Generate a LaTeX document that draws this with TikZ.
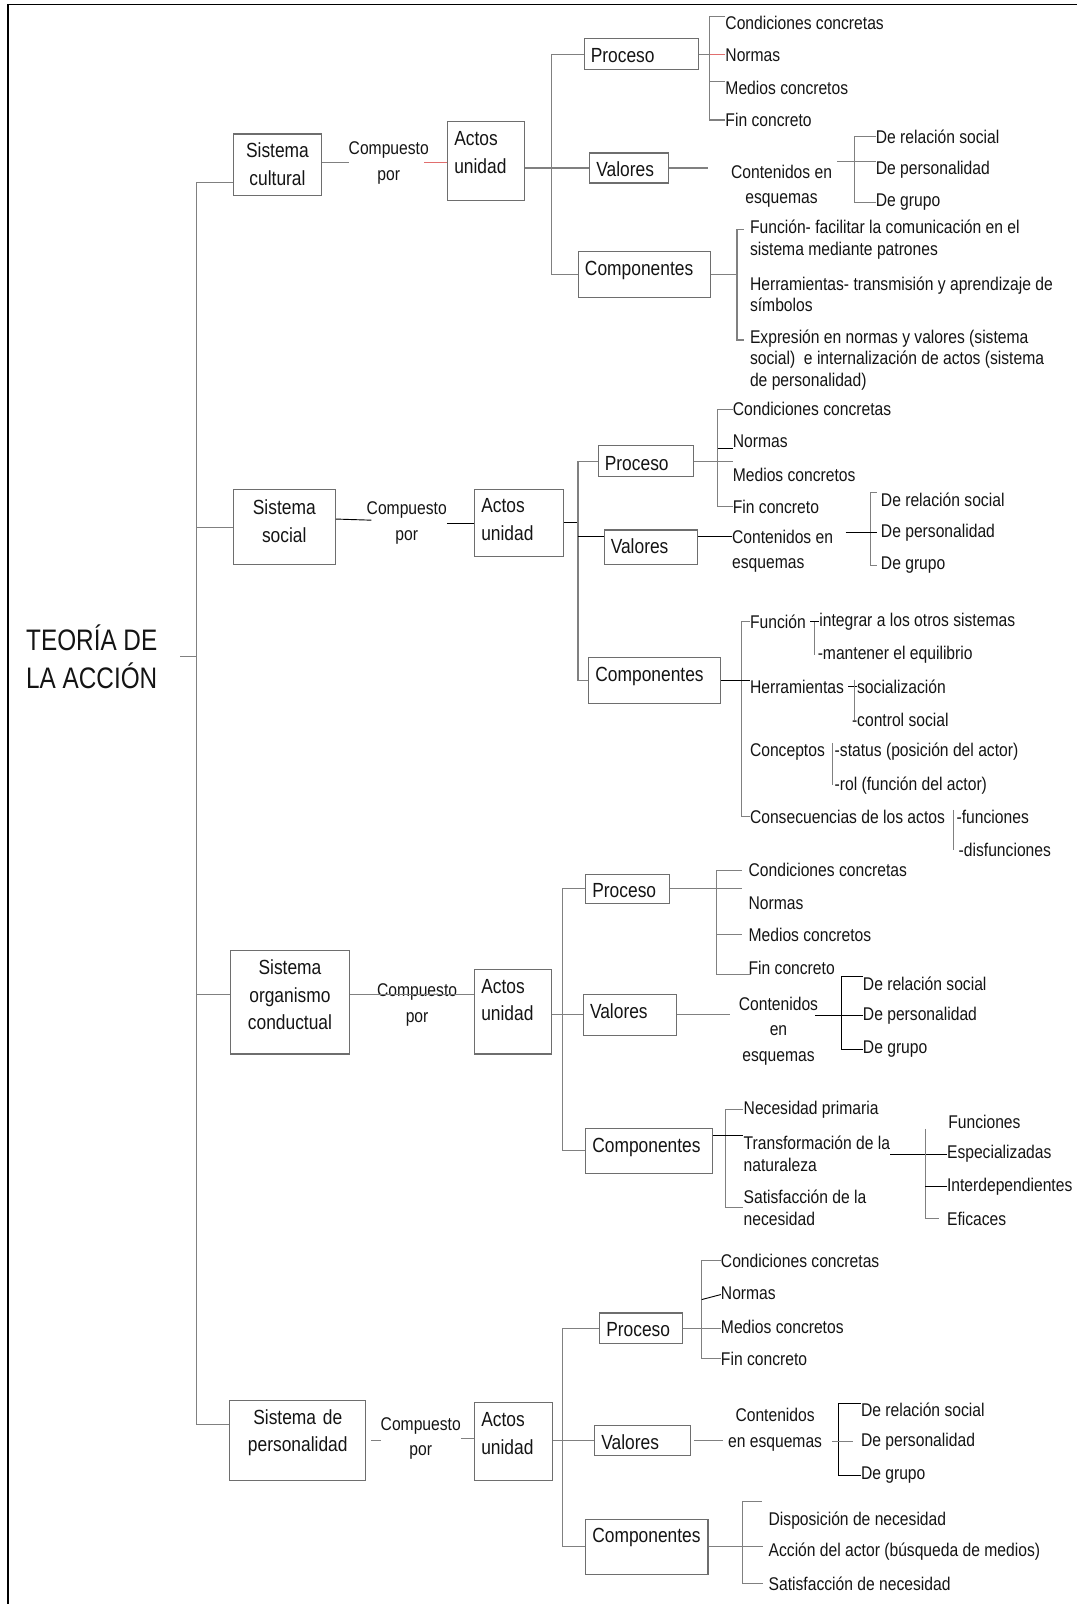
\documentclass[tikz,border=0pt]{standalone}
\usepackage{fontspec}
\setmainfont{Liberation Sans}[FakeStretch=0.85]
\newfontfamily\titlefont{Liberation Sans}[FakeStretch=0.82]
\definecolor{linegray}{RGB}{128,128,128}
\definecolor{boxgray}{RGB}{110,110,110}
\definecolor{tickred}{RGB}{225,110,110}
\definecolor{inkblack}{RGB}{20,20,20}
\tikzset{
  box/.style={draw=boxgray, line width=1.1pt, anchor=north west, inner xsep=6.5pt,
    inner ysep=0pt, font=\fontsize{20}{27}\selectfont, text=inkblack},
  txt/.style={inner sep=0pt, anchor=west, align=left, font=\fontsize{18}{21}\selectfont, text=inkblack},
  txtc/.style={inner sep=0pt, align=center, font=\fontsize{18}{25}\selectfont, text=inkblack},
  link/.style={draw=linegray, line width=1.1pt},
  darklink/.style={draw=black, line width=0.9pt},
  redlink/.style={draw=tickred, line width=1.1pt},
}
\begin{document}
\begin{tikzpicture}[x=1pt, y=-1pt]
  \useasboundingbox (0,0) rectangle (1053,1568);
  \draw[line width=1.6pt] (8.1,1568) -- (8.1,4.4) -- (1053,4.4);

  \node[inner sep=0pt, anchor=west, align=left, text=inkblack,
    font=\titlefont\fontsize{29}{37.5}\selectfont] (teoria) at (25.4,642) {TEORÍA DE\\LA ACCIÓN};

  % Sistema cultural
  \node[box, align=center, text width=72.4pt, text height=23.4pt, text depth=36.9pt] (cSis) at (228,130.4) {Sistema\\cultural};
  \node[txtc] (cComp) at (380,159.2) {Compuesto\\por};
  \node[box, align=left, text width=62pt, text height=23.4pt, text depth=53.8pt] (cAct) at (437,118.3) {Actos\\unidad};
  \node[box, align=left, text width=98.5pt, text height=22.8pt, text depth=7.2pt] (cPro) at (570.5,37.5) {Proceso};
  \node[box, align=left, text width=63.9pt, text height=23.1pt, text depth=6.2pt] (cVal) at (575.9,149) {Valores};
  \node[box, align=left, text width=115.9pt, text height=23.7pt, text depth=21.2pt] (cCmp) at (564.8,245.1) {Componentes};
  \node[txt] (cP1) at (709,22.8) {Condiciones concretas};
  \node[txt] (cP2) at (709,53.8) {Normas};
  \node[txt] (cP3) at (709,86.4) {Medios concretos};
  \node[txt] (cP4) at (709,117.3) {Fin concreto};
  \node[txtc] (cC) at (764,182) {Contenidos en\\esquemas};
  \node[txt] (cV1) at (856,133.6) {De relación social};
  \node[txt] (cV2) at (856,166.2) {De personalidad};
  \node[txt] (cV3) at (856,197.8) {De grupo};
  \node[txt] (cM1) at (733,234.3) {Función- facilitar la comunicación en el\\sistema mediante patrones};
  \node[txt] (cM2) at (733,287.6) {Herramientas- transmisión y aprendizaje de\\símbolos};
  \node[txt] (cM3) at (733,351.7) {Expresión en normas y valores (sistema\\social)~ e internalización de actos (sistema\\de personalidad)};

  \coordinate (cB) at (539,0);
  \draw[link] (cSis.east |- cComp.west) -- (cComp.west);
  \draw[redlink, shorten <=-4.8pt] (cComp.east) -- (cComp.east -| cAct.west);
  \draw[link] (cPro.west) -| (cB |- cCmp.west) -- (cCmp.west);
  \draw[link] (cAct.east |- cVal.west) -- (cVal.west);
  \coordinate (cPb) at (693.7,0);
  \draw[link] (cP1.north west) -| (cPb |- cP4.west) -- (cP4.west);
  \draw[link] (cPro.east) -- (cPro.east -| cPb);
  \draw[redlink] (cPro.east -| cPb) -- (cPro.east -| cP2.west);
  \draw[link] (cP3.north west) -- (cP3.north west -| cPb);
  \draw[link, shorten >=22.7pt] (cVal.east) -- (cVal.east -| cC.west);
  \coordinate (cVb) at (835.4,0);
  \draw[link] (cV1.west) -| (cVb |- cV3.west) -- (cV3.west);
  \draw[link, shorten <=4.7pt] (cC.east |- cV2.north) -- (cV2.north west);
  \coordinate (cMt) at (720.5,224.2);
  \coordinate (cMd) at (720.5,332.4);
  \draw[link] (cCmp.east) -- (cCmp.east -| cMt);
  \draw[link, shorten <=6pt, shorten >=6pt] (cMt -| cM1.west) -- (cMt) -- (cMd) -- (cMd -| cM3.west);

  % Sistema social
  \node[box, align=center, text width=86.7pt, text height=24.5pt, text depth=49.2pt] (sSis) at (227.5,478) {Sistema\\social};
  \node[txtc] (sComp) at (397.6,511.5) {Compuesto\\por};
  \node[box, align=left, text width=73.7pt, text height=22.9pt, text depth=42.4pt] (sAct) at (463.4,478) {Actos\\unidad};
  \node[box, align=left, text width=80.4pt, text height=24.5pt, text depth=5.9pt] (sPro) at (584.2,435) {Proceso};
  \node[box, align=left, text width=78.3pt, text height=23.5pt, text depth=10.4pt] (sVal) at (590,517.5) {Valores};
  \node[box, align=left, text width=115.8pt, text height=23.5pt, text depth=21.5pt] (sCmp) at (575,642) {Componentes};
  \node[txt] (sP1) at (716.2,400.2) {Condiciones concretas};
  \node[txt] (sP2) at (716.2,431.8) {Normas};
  \node[txt] (sP3) at (716.2,463.8) {Medios concretos};
  \node[txt] (sP4) at (716.2,495.4) {Fin concreto};
  \node[txt, font=\fontsize{18}{24}\selectfont] (sC) at (715.5,539) {Contenidos en\\esquemas};
  \node[txt] (sV1) at (861,488.2) {De relación social};
  \node[txt] (sV2) at (861,520.5) {De personalidad};
  \node[txt] (sV3) at (861,552.4) {De grupo};
  \node[txt] (sM1) at (733,607.8) {Función};
  \node[txt] (sM2) at (733,671.4) {Herramientas};
  \node[txt] (sM3) at (733,734.9) {Conceptos};
  \node[txt] (sM4) at (733,798.5) {Consecuencias de los actos};
  \node[txt] (sF1) at (800.8,607.8) {integrar a los otros sistemas};
  \node[txt] (sF2) at (799.2,640.4) {-mantener el equilibrio};
  \node[txt] (sH1) at (837.7,671.4) {socialización};
  \node[txt] (sH2) at (832.7,704) {-control social};
  \node[txt] (sK1) at (815.8,734.9) {-status (posición del actor)};
  \node[txt] (sK2) at (815.8,767.5) {-rol (función del actor)};
  \node[txt] (sQ1) at (935,798.5) {-funciones};
  \node[txt] (sQ2) at (937,831) {-disfunciones};

  \coordinate (sB) at (565,0);
  \coordinate (sVt) at ([yshift=10.8pt]sVal.west);
  \draw[darklink] ([yshift=8pt]sSis.east) -- ([xshift=4.8pt,yshift=3pt]sComp.west);
  \draw[darklink] (sComp.east) -- (sComp.east -| sAct.west);
  \draw[darklink] (sAct.east) -- (sAct.east -| sB);
  \draw[link] (sPro.west) -| (sB |- sCmp.west) -- (sCmp.west);
  \draw[darklink] (sVt -| sB) -- (sVt);
  \coordinate (sPb) at (701.4,0);
  \draw[link] (sP1.west) -| (sPb |- sP4.west) -- (sP4.west);
  \draw[darklink] (sP2.south west) -- (sP2.south west -| sPb);
  \draw[link] (sPro.east) -- (sPro.east -| sP3.west);
  \draw[darklink] (sVt -| sVal.east) -- (sVt -| sC.west);
  \coordinate (sVb) at (851,0);
  \draw[link, shorten <=4pt, shorten >=4pt] (sV1.north west) -| (sVb |- sV3.west) -- (sV3.west);
  \draw[darklink, shorten <=12pt, shorten >=4pt] (sC.east |- sV2.west) -- (sV2.west);
  \coordinate (sMb) at (724.9,0);
  \draw[link] (sM1.west) -| (sMb |- sM4.west) -- (sM4.west);
  \draw[darklink] (sCmp.east) -- (sCmp.east -| sM2.west);
  \draw[darklink, shorten <=4pt] (sM1.east) -- (sM1.east -| sF1.west);
  \coordinate (sFb) at (795.8,0);
  \draw[link] (sFb |- sF1.west) -- (sFb |- sF2.west);
  \draw[darklink, shorten <=4pt] (sM2.east) -- (sM2.east -| sH1.west);
  \coordinate (sHb) at (835.4,0);
  \draw[link] (sHb |- sH1.north) -- (sHb |- sH2.west);
  \coordinate (sKb) at (813.5,0);
  \draw[link] (sKb |- sK1.north) -- (sKb |- sK2.west);
  \coordinate (sQb) at (932.5,0);
  \draw[link] (sQb |- sQ1.north) -- (sQb |- sQ2.west);

  % Sistema organismo conductual
  \node[box, align=center, text width=103pt, text height=24.1pt, text depth=77.5pt] (oSis) at (224.9,928.2) {Sistema\\organismo\\conductual};
  \node[txtc] (oComp) at (407.7,982.2) {Compuesto\\por};
  \node[box, align=left, text width=62pt, text height=23.7pt, text depth=59.3pt] (oAct) at (463.4,946.8) {Actos\\unidad};
  \node[box, align=left, text width=69pt, text height=22.8pt, text depth=5.8pt] (oPro) at (572,853.9) {Proceso};
  \node[box, align=left, text width=77.9pt, text height=22.8pt, text depth=16.7pt] (oVal) at (569.7,971.8) {Valores};
  \node[box, align=left, text width=110.8pt, text height=23.8pt, text depth=20.6pt] (oCmp) at (572,1102.2) {Componentes};
  \node[txt] (oP1) at (731.6,850.6) {Condiciones concretas};
  \node[txt] (oP2) at (731.6,882.5) {Normas};
  \node[txt] (oP3) at (731.6,913.5) {Medios concretos};
  \node[txt] (oP4) at (731.6,945.8) {Fin concreto};
  \node[txtc] (oC) at (761,1007.9) {Contenidos\\en\\esquemas};
  \node[txt] (oV1) at (843.4,961.4) {De relación social};
  \node[txt] (oV2) at (843.4,993) {De personalidad};
  \node[txt] (oV3) at (843.4,1025.9) {De grupo};
  \node[txt] (oM1) at (726.8,1084.6) {Necesidad primaria};
  \node[txt] (oM2) at (726.8,1127.8) {Transformación de la\\naturaleza};
  \node[txt] (oM3) at (726.8,1180.6) {Satisfacción de la\\necesidad};
  \node[txt] (oT1) at (926.8,1096.7) {Funciones};
  \node[txt] (oT2) at (925.6,1128.3) {Especializadas};
  \node[txt] (oT3) at (925.6,1160.2) {Interdependientes};
  \node[txt] (oT4) at (925.6,1191.2) {Eficaces};

  \coordinate (oTick) at ([yshift=7.2pt]oSis.west);
  \draw[link] (oTick -| oSis.east) -- (oTick -| oAct.west);
  \coordinate (oB) at (550.1,0);
  \draw[link] (oAct.east |- oVal.west) -- (oVal.west);
  \draw[link] (oPro.west) -| (oB |- oCmp.west) -- (oCmp.west);
  \coordinate (oPb) at (700.7,0);
  \draw[link, shorten <=6.6pt] (oP1.west) -| (oPb |- oP4.south) -- ([xshift=3pt]oP4.south west);
  \draw[link, shorten >=6.6pt] (oPb |- oP3.west) -- (oP3.west);
  \draw[link, shorten >=6.6pt] (oPro.east) -- (oPro.east -| oP1.west);
  \draw[link, shorten >=8.6pt] (oVal.east) -- (oVal.east -| oC.west);
  \coordinate (oVb) at (822.9,0);
  \draw[darklink] (oV1.north west) -| (oVb |- oV3.west) -- (oV3.west);
  \draw[darklink, shorten <=-3pt] (oC.east |- oV2.west) -- (oV2.west);
  \coordinate (oMb) at (708.8,0);
  \draw[link] (oM1.west) -| (oMb |- oM3.west) -- (oM3.west);
  \draw[darklink] (oM2.north west -| oCmp.east) -- (oM2.north west);
  \draw[darklink] (oM2.east |- oT2.west) -- (oT2.west);
  \coordinate (oTb) at (904.4,0);
  \draw[link] (oTb |- oT1.south) -- (oTb |- oT4.west) -- ([xshift=-8pt]oT4.west);
  \draw[darklink] (oTb |- oT3.west) -- (oT3.west);

  % Sistema de personalidad
  \node[box, align=center, text width=119.7pt, text height=23.5pt, text depth=54.7pt] (pSis) at (224.2,1368.1) {Sistema de\\personalidad};
  \node[txtc] (pComp) at (411.3,1406) {Compuesto\\por};
  \node[box, align=left, text width=63pt, text height=23.8pt, text depth=52.1pt] (pAct) at (463.4,1370.4) {Actos\\unidad};
  \node[box, align=left, text width=67.9pt, text height=23.2pt, text depth=6.6pt] (pPro) at (585.6,1283) {Proceso};
  \node[box, align=left, text width=80.8pt, text height=23.4pt, text depth=5.9pt] (pVal) at (580.8,1392.6) {Valores};
  \node[box, align=left, text width=106.6pt, text height=22.8pt, text depth=31pt] (pCmp) at (572,1484.5) {Componentes};
  \node[txt] (pP1) at (704.6,1232.6) {Condiciones concretas};
  \node[txt] (pP2) at (704.6,1263.9) {Normas};
  \node[txt] (pP3) at (704.6,1297) {Medios concretos};
  \node[txt] (pP4) at (704.6,1328) {Fin concreto};
  \node[txtc] (pC) at (757.7,1397.8) {Contenidos\\en esquemas};
  \node[txt] (pV1) at (841.5,1378.6) {De relación social};
  \node[txt] (pV2) at (841.5,1409.5) {De personalidad};
  \node[txt] (pV3) at (841.5,1442.1) {De grupo};
  \node[txt] (pM1) at (751.2,1486.1) {Disposición de necesidad};
  \node[txt] (pM2) at (751.2,1517.1) {Acción del actor (búsqueda de medios)};
  \node[txt] (pM3) at (751.2,1548) {Satisfacción de necesidad};

  \coordinate (pTick) at ([yshift=15.6pt]pSis.west);
  \draw[link, shorten <=5pt] (pSis.east) -- (pSis.east -| pComp.west);
  \draw[link] (pComp.east) -- (pComp.east -| pAct.west);
  \coordinate (pB) at (550.1,0);
  \draw[link] (pAct.east |- pVal.west) -- (pVal.west);
  \draw[link] (pPro.west) -| (pB |- pCmp.west) -- (pCmp.west);
  \coordinate (pPb) at (686,0);
  \draw[link] (pP1.west) -| (pPb |- pP4.west) -- (pP4.west);
  \draw[darklink] (pPb |- pP2.south) -- ([yshift=-1.6pt]pP2.west);
  \draw[link] (pPro.east) -- (pPro.east -| pP3.west);
  \draw[link, shorten <=2.6pt, shorten >=4.6pt] (pVal.east) -- (pVal.east -| pC.west);
  \coordinate (pVb) at (819.6,0);
  \draw[darklink] (pV1.north west) -| (pVb |- pV3.west) -- (pV3.west);
  \draw[link, shorten <=9.5pt, shorten >=7.2pt] (pC.east |- pV2.west) -- (pV2.west);
  \coordinate (pMt) at (726.1,1468.2);
  \draw[link, shorten <=6.5pt, shorten >=5pt] (pMt -| pM1.west) -- (pMt) |- (pM3.west);
  \draw[link, shorten >=5pt] (pCmp.east) -- (pCmp.east -| pM2.west);

  % trunk
  \coordinate (trunk) at (192,0);
  \coordinate (cTick) at ([yshift=-17pt]cSis.west);
  \coordinate (tTick) at (176,641.4);
  \draw[link] (cTick) -| (trunk |- pTick) -- (pTick);
  \draw[link] (trunk |- sSis.west) -- (sSis.west);
  \draw[link] (trunk |- oTick) -- (oTick);
  \draw[link] (tTick) -- (tTick -| trunk);
\end{tikzpicture}
\end{document}
